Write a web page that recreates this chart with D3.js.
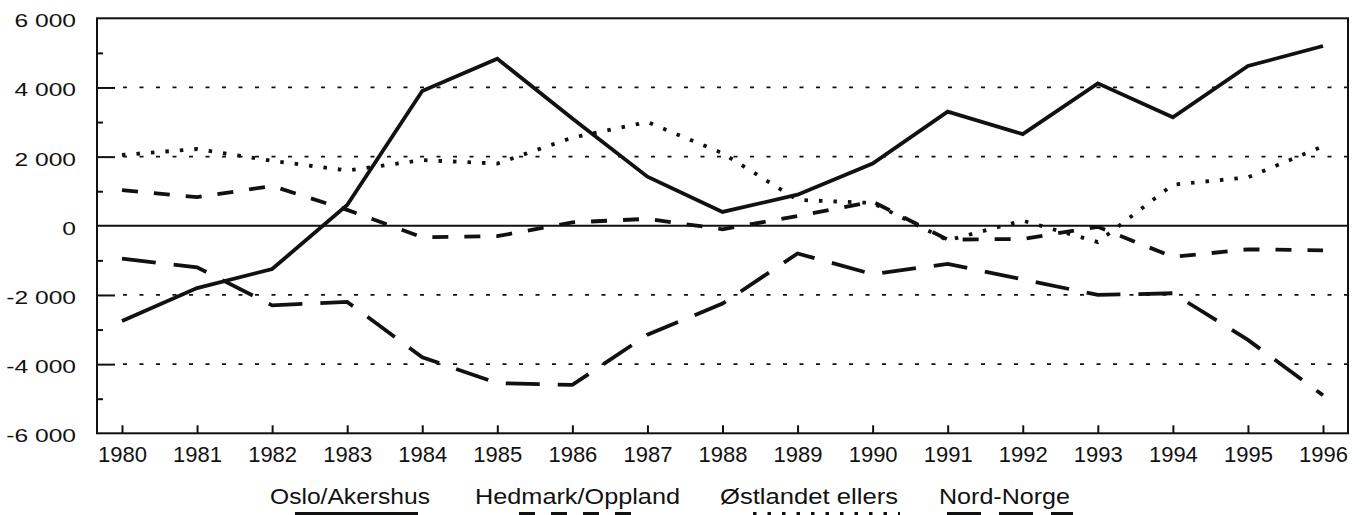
<!DOCTYPE html>
<html><head><meta charset="utf-8">
<script src="https://cdn.jsdelivr.net/npm/d3@7"></script>
<style>
html,body{margin:0;padding:0;background:#fff;}
svg{display:block;}
text{font-family:"Liberation Sans",Arial,Helvetica,sans-serif;fill:#111;}
</style></head>
<body><svg id="c" width="1365" height="515"></svg>
<script>
const years = [1980,1981,1982,1983,1984,1985,1986,1987,1988,1989,1990,1991,1992,1993,1994,1995,1996];
const osloAkershus   = [-2750,-1800,-1250,600,3900,4830,3100,1420,400,900,1800,3300,2650,4120,3140,4620,5200];
const hedmarkOppland = [1030,830,1150,460,-330,-300,100,200,-100,280,700,-400,-380,-30,-900,-680,-710];
const ostlandetEllers= [2050,2220,1880,1600,1900,1800,2550,3000,2100,750,660,-420,150,-470,1190,1400,2300];
const nordNorge      = [-950,-1200,-2300,-2200,-3800,-4550,-4600,-3150,-2250,-800,-1400,-1100,-1550,-2000,-1950,-3300,-4900];
const seriesNames = ["Oslo/Akershus","Hedmark/Oppland","Østlandet ellers","Nord-Norge"];
const yTickLabels = [-6000,-4000,-2000,0,2000,4000,6000];

const series = [
  {name:seriesNames[0], values:osloAkershus,   dash:null,      legend:[295,418], text:[270,430]},
  {name:seriesNames[1], values:hedmarkOppland, dash:"16,16",   legend:[519,644], text:[475,680]},
  {name:seriesNames[2], values:ostlandetEllers,dash:"3.5,11",  legend:[753,900], text:[720,898]},
  {name:seriesNames[3], values:nordNorge,      dash:"34,18",   legend:[947,1073],text:[939,1070]}
];

const L=97, R=1348, T=18.3, B=433.3;
const svg = d3.select("#c");
const x = d3.scalePoint().domain(years).range([L,R]).padding(0.333);
const y = d3.scaleLinear().domain([-6000,6000]).range([B,T]);
const loc = d3.formatLocale({decimal:",",thousands:" ",grouping:[3],currency:["",""],minus:"-"});
const fmt = loc.format(",d");

// gridlines
svg.append("g").selectAll("line").data(yTickLabels.filter(v=>v!==0 && Math.abs(v)!==6000)).join("line")
  .attr("x1",L+18).attr("x2",R).attr("y1",d=>y(d)).attr("y2",d=>y(d))
  .attr("stroke","#111").attr("stroke-width",1.8).attr("stroke-dasharray","4,12.5").attr("stroke-dashoffset",-8);
// zero line
svg.append("line").attr("x1",L).attr("x2",R).attr("y1",y(0)).attr("y2",y(0)).attr("stroke","#111").attr("stroke-width",2);

// inner ticks on y axis
const minorAx = d3.axisRight(y).tickValues(d3.range(-5000,6000,2000)).tickSize(6).tickFormat("");
const gMin = svg.append("g").attr("transform",`translate(${L},0)`).call(minorAx);
const majorAx = d3.axisRight(y).tickValues([-4000,-2000,2000,4000]).tickSize(18).tickFormat("");
const gMaj = svg.append("g").attr("transform",`translate(${L},0)`).call(majorAx);
[gMin,gMaj].forEach(g=>{g.select(".domain").remove(); g.selectAll("line").attr("stroke","#111").attr("stroke-width",2);});

// y labels
const yAx = d3.axisLeft(y).tickValues(yTickLabels).tickSize(0).tickPadding(0).tickFormat(fmt);
const gy = svg.append("g").attr("transform",`translate(${L-21},0)`).call(yAx);
gy.select(".domain").remove();
gy.selectAll("text").attr("font-size",18.5).attr("fill","#111").attr("x",0).attr("dy",8.5)
  .attr("font-family",'"Liberation Sans",Arial,sans-serif').attr("transform","scale(1.33,1)");

// x axis
const xAx = d3.axisBottom(x).tickSizeInner(-8).tickSizeOuter(0).tickPadding(0);
const gx = svg.append("g").attr("transform",`translate(0,${B})`).call(xAx);
gx.select(".domain").remove();
gx.selectAll("line").attr("stroke","#111").attr("stroke-width",2);
gx.selectAll("text").attr("font-size",22).attr("fill","#111").attr("y",29).attr("dy",0)
  .attr("font-family",'"Liberation Sans",Arial,sans-serif');

// frame
svg.append("rect").attr("x",L).attr("y",T).attr("width",R-L).attr("height",B-T)
  .attr("fill","none").attr("stroke","#111").attr("stroke-width",2);

// lines
const line = d3.line().x((d,i)=>x(years[i])).y(d=>y(d));
series.forEach(s=>{
  svg.append("path").datum(s.values).attr("d",line).attr("fill","none")
    .attr("stroke","#111").attr("stroke-width",3.8)
    .attr("stroke-dasharray",s.dash).attr("stroke-linejoin","miter");
});

// legend
series.forEach(s=>{
  svg.append("text").attr("x",s.text[0]).attr("y",504).attr("font-size",22)
    .attr("textLength",s.text[1]-s.text[0]).attr("lengthAdjust","spacingAndGlyphs").text(s.name);
  svg.append("line").attr("x1",s.legend[0]).attr("x2",s.legend[1]).attr("y1",514).attr("y2",514)
    .attr("stroke","#111").attr("stroke-width",4).attr("stroke-dasharray",s.dash);
});
</script></body></html>
